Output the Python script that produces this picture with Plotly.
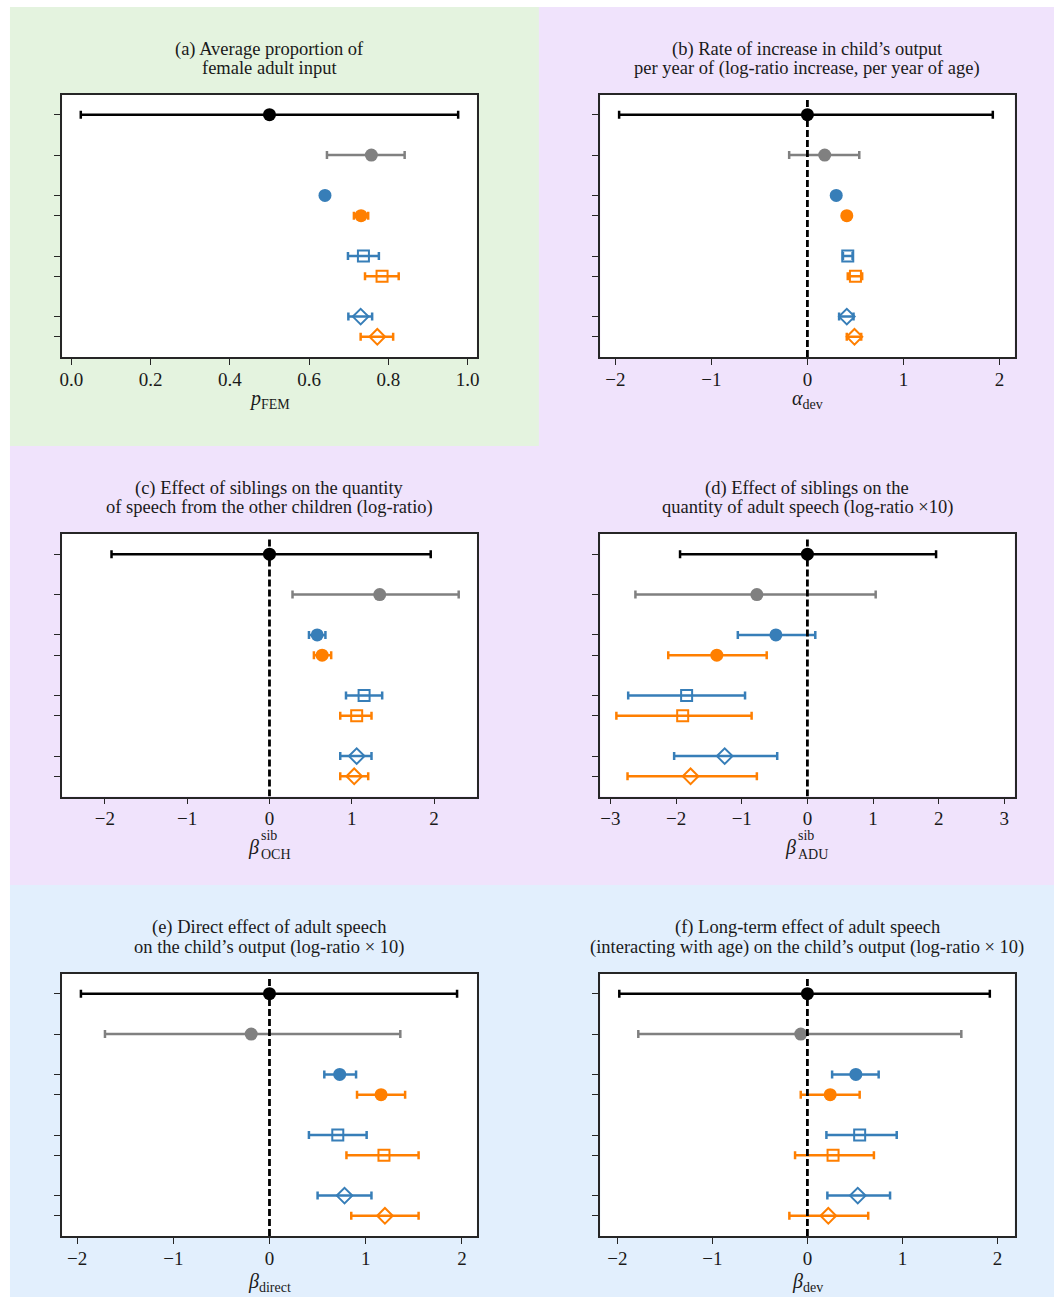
import plotly.graph_objects as go

W, H = 1057, 1298
FONT = "Liberation Serif"
TXT = "#1a1a1a"

# ---------------- data ----------------
row_pos = [0, -2, -4, -5, -7, -8, -10, -11]

a_mid = [0.500, 0.757, 0.640, 0.731, 0.737, 0.784, 0.730, 0.772]
a_lo = [0.024, 0.645, 0.635, 0.713, 0.698, 0.741, 0.699, 0.730]
a_hi = [0.976, 0.841, 0.645, 0.749, 0.776, 0.826, 0.759, 0.812]

b_mid = [0.00, 0.18, 0.30, 0.41, 0.42, 0.50, 0.41, 0.49]
b_lo = [-1.96, -0.19, 0.28, 0.39, 0.37, 0.42, 0.33, 0.41]
b_hi = [1.93, 0.54, 0.32, 0.43, 0.47, 0.57, 0.48, 0.56]

c_mid = [0.00, 1.34, 0.58, 0.64, 1.15, 1.06, 1.06, 1.03]
c_lo = [-1.92, 0.28, 0.48, 0.54, 0.93, 0.86, 0.86, 0.86]
c_hi = [1.96, 2.30, 0.68, 0.75, 1.37, 1.24, 1.24, 1.20]

d_mid = [0.00, -0.77, -0.48, -1.38, -1.84, -1.90, -1.26, -1.78]
d_lo = [-1.94, -2.62, -1.06, -2.12, -2.73, -2.91, -2.03, -2.74]
d_hi = [1.96, 1.04, 0.12, -0.62, -0.95, -0.85, -0.46, -0.77]

e_mid = [0.00, -0.19, 0.73, 1.16, 0.71, 1.19, 0.78, 1.20]
e_lo = [-1.96, -1.71, 0.57, 0.91, 0.41, 0.80, 0.50, 0.85]
e_hi = [1.95, 1.36, 0.90, 1.41, 1.01, 1.55, 1.06, 1.55]

f_mid = [0.00, -0.07, 0.51, 0.24, 0.55, 0.27, 0.53, 0.22]
f_lo = [-1.98, -1.78, 0.26, -0.07, 0.20, -0.13, 0.21, -0.19]
f_hi = [1.92, 1.62, 0.75, 0.55, 0.94, 0.70, 0.87, 0.64]

a_ticks = [0.0, 0.2, 0.4, 0.6, 0.8, 1.0]
a_ticklabels = ["0.0", "0.2", "0.4", "0.6", "0.8", "1.0"]
pm2_ticks = [-2, -1, 0, 1, 2]
pm2_ticklabels = ["\u22122", "\u22121", "0", "1", "2"]
pm3_ticks = [-3, -2, -1, 0, 1, 2, 3]
pm3_ticklabels = ["\u22123", "\u22122", "\u22121", "0", "1", "2", "3"]

a_title = ["(a) Average proportion of", "female adult input"]
b_title = ["(b) Rate of increase in child\u2019s output",
           "per year of (log-ratio increase, per year of age)"]
c_title = ["(c) Effect of siblings on the quantity",
           "of speech from the other children (log-ratio)"]
d_title = ["(d) Effect of siblings on the",
           "quantity of adult speech (log-ratio \u00d710)"]
e_title = ["(e) Direct effect of adult speech",
           "on the child\u2019s output (log-ratio \u00d7 10)"]
f_title = ["(f) Long-term effect of adult speech",
           "(interacting with age) on the child\u2019s output (log-ratio \u00d7 10)"]

# ---------------- styles ----------------
row_color = ["#000000", "#808080", "#377eb8", "#ff7f00",
             "#377eb8", "#ff7f00", "#377eb8", "#ff7f00"]
row_symbol = ["circle", "circle", "circle", "circle",
              "square-open", "square-open", "diamond-open", "diamond-open"]
row_size = [13, 13, 13, 13, 11, 11, 12, 12]


def px_x(px):
    return px / W


def px_y(py):
    return 1 - py / H


LEFT = (59.5, 476.5)
RIGHT = (600.7, 1017.3)
ROW_OFF = [0, 439.5, 879]
BOX_Y = (94.5, 357.0)

panels = [
    dict(mid=a_mid, lo=a_lo, hi=a_hi, rng=[-0.023, 1.023], tv=a_ticks, tt=a_ticklabels,
         title=a_title, col=0, row=0, zero=False),
    dict(mid=b_mid, lo=b_lo, hi=b_hi, rng=[-2.156, 2.156], tv=pm2_ticks, tt=pm2_ticklabels,
         title=b_title, col=1, row=0, zero=True),
    dict(mid=c_mid, lo=c_lo, hi=c_hi, rng=[-2.52, 2.52], tv=pm2_ticks, tt=pm2_ticklabels,
         title=c_title, col=0, row=1, zero=True),
    dict(mid=d_mid, lo=d_lo, hi=d_hi, rng=[-3.155, 3.155], tv=pm3_ticks, tt=pm3_ticklabels,
         title=d_title, col=1, row=1, zero=True),
    dict(mid=e_mid, lo=e_lo, hi=e_hi, rng=[-2.155, 2.155], tv=pm2_ticks, tt=pm2_ticklabels,
         title=e_title, col=0, row=2, zero=True),
    dict(mid=f_mid, lo=f_lo, hi=f_hi, rng=[-2.18, 2.18], tv=pm2_ticks, tt=pm2_ticklabels,
         title=f_title, col=1, row=2, zero=True),
]

fig = go.Figure()
layout = dict(
    width=W, height=H, margin=dict(l=0, r=0, t=0, b=0),
    paper_bgcolor="white", plot_bgcolor="white", showlegend=False,
    font=dict(family=FONT, size=17, color=TXT),
)
annotations = []
box_shapes = []


def ann(text, px, py, size=17, xanchor="center", yanchor="middle"):
    return dict(text=text, x=px_x(px), y=px_y(py), xref="paper", yref="paper",
                showarrow=False, xanchor=xanchor, yanchor=yanchor,
                font=dict(family=FONT, size=size, color=TXT))


for i, p in enumerate(panels):
    n = i + 1
    xa = "x" if n == 1 else f"x{n}"
    ya = "y" if n == 1 else f"y{n}"
    xl, xr = LEFT if p["col"] == 0 else RIGHT
    off = ROW_OFF[p["row"]]
    yt, yb = BOX_Y[0] + off, BOX_Y[1] + off
    axis_common = dict(showgrid=False, zeroline=False, showline=True, mirror=True,
                       linewidth=1.6, linecolor="#262626", ticks="outside", ticklen=6,
                       tickwidth=1.4, tickcolor="#262626")
    layout["xaxis" if n == 1 else f"xaxis{n}"] = dict(
        domain=[px_x(xl), px_x(xr)], anchor=ya, range=p["rng"],
        tickmode="array", tickvals=p["tv"], ticktext=p["tt"], ticklabelstandoff=-2,
        tickfont=dict(family=FONT, size=19, color=TXT), **axis_common)
    layout["yaxis" if n == 1 else f"yaxis{n}"] = dict(
        domain=[px_y(yb), px_y(yt)], anchor=xa, range=[-12, 1],
        tickmode="array", tickvals=row_pos, showticklabels=False, **axis_common)
    box_shapes.append(dict(type="rect", xref="paper", yref="paper",
                           x0=px_x(xl), x1=px_x(xr), y0=px_y(yb), y1=px_y(yt),
                           fillcolor="white", line=dict(width=0), layer="below"))

    for k in range(len(row_pos)):
        m = p["mid"][k]
        filled = not row_symbol[k].endswith("open")
        fig.add_trace(go.Scatter(
            x=[m], y=[row_pos[k]], xaxis=xa, yaxis=ya, mode="markers",
            marker=dict(symbol=row_symbol[k], size=row_size[k], color=row_color[k],
                        line=dict(width=0 if filled else 2, color=row_color[k])),
            error_x=dict(type="data", symmetric=False,
                         array=[p["hi"][k] - m], arrayminus=[m - p["lo"][k]],
                         color=row_color[k], thickness=2.5, width=4),
            hoverinfo="skip"))
    if p["zero"]:
        fig.add_trace(go.Scatter(
            x=[0, 0], y=[-12, 0.76], xaxis=xa, yaxis=ya, mode="lines",
            line=dict(color="black", width=2.8, dash="7px,3px"), hoverinfo="skip"))

    cx = (xl + xr) / 2
    annotations.append(ann(p["title"][0], cx, 49 + off, size=18.5))
    annotations.append(ann(p["title"][1], cx, 68 + off, size=18.5))

# axis labels
annotations.append(ann("<i>p</i><sub>FEM</sub>", 268, 399, size=20))
annotations.append(ann("<i>\u03b1</i><sub>dev</sub>", 809, 399, size=20))
for cx, sub in [(257, "OCH"), (798, "ADU")]:
    annotations.append(ann("<i>\u03b2</i>", cx + 2, 847, size=20, xanchor="right"))
    annotations.append(ann("sib", cx, 836, size=14, xanchor="left"))
    annotations.append(ann(sub, cx, 854, size=14, xanchor="left"))
annotations.append(ann("<i>\u03b2</i><sub>direct</sub>", 268, 1282, size=20))
annotations.append(ann("<i>\u03b2</i><sub>dev</sub>", 809, 1282, size=20))

layout["annotations"] = annotations

# background panels
bg = [
    (7, 7, 539, 446, "#e4f3df"),
    (539, 7, W, 446, "#f0e3fc"),
    (7, 446, W, 885, "#f0e3fc"),
    (7, 885, W, 1297, "#e2effd"),
]
layout["shapes"] = [
    dict(type="rect", xref="paper", yref="paper", x0=px_x(a), x1=px_x(c),
         y0=px_y(d), y1=px_y(b), fillcolor=col, line=dict(width=0), layer="below")
    for a, b, c, d, col in bg
] + box_shapes

fig.update_layout(**layout)
fig.write_html("out.html", config={"displayModeBar": False},
               post_script="document.body.style.margin='0';document.body.style.overflow='hidden';")
